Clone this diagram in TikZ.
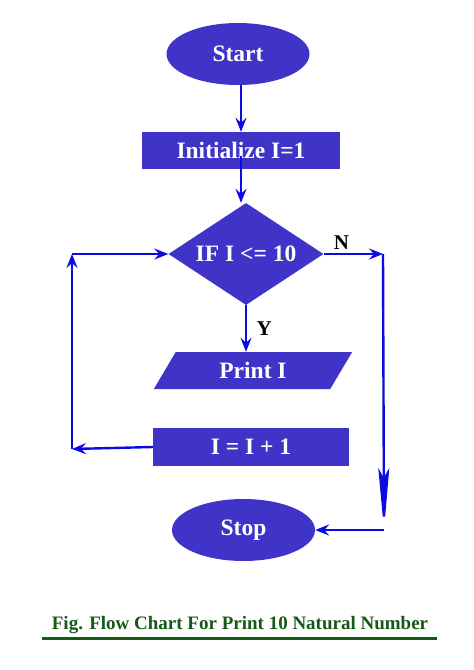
\documentclass[tikz,border=0pt]{standalone}
\usepackage{fontspec}
\setmainfont{Liberation Serif}
\usetikzlibrary{positioning}
\usetikzlibrary{arrows.meta,shapes}
\usetikzlibrary{calc}
\definecolor{boxblue}{RGB}{64,52,200}
\definecolor{lineblue}{RGB}{10,10,225}
\definecolor{capgreen}{RGB}{22,88,22}

\begin{document}
\begin{tikzpicture}[x=1pt, y=-1pt,
  box/.style={fill=boxblue, text=white, inner sep=0pt, font=\bfseries\fontsize{23.5}{27}\selectfont},
  arr/.style={draw=lineblue, line width=2.4pt, -{Stealth[length=14pt,width=11pt,inset=5pt]}},
  longarr/.style={draw=lineblue, line width=2.4pt, -{Stealth[length=62pt,width=11pt,inset=10pt]}},
  lbl/.style={font=\bfseries\fontsize{21}{24}\selectfont}]
\useasboundingbox (0,0) rectangle (474,670);

\node[box, ellipse, minimum width=143pt, minimum height=62pt] (start) at (238,54) {Start};
\node[box, rectangle, minimum width=198pt, minimum height=37pt] (init) at (241,150.5) {Initialize I=1};
\node[box, diamond, aspect=1.5, minimum width=155pt, minimum height=102pt] (cond) at (246,254) {IF I <= 10};
\node[box, trapezium, trapezium left angle=60, trapezium right angle=120, trapezium stretches=true,
      minimum width=200pt, minimum height=37pt] (print) at (253,370.5) {Print I};
\node[box, rectangle, minimum width=196pt, minimum height=38pt] (incr) at (251,447) {I = I + 1};
\node[box, ellipse, minimum width=143pt, minimum height=62pt] (stop) at (243.5,530) {Stop};

\coordinate (noright) at (383,254);
\coordinate (stopright) at (384,530);
\coordinate (loopdown) at (72,449);
\coordinate (loopup) at (72,254);

\draw[arr] (start.south -| init.center) -- (init.north);
\draw[arr] ([yshift=-5pt]init.center) -- (cond.north -| init.center);
\draw[arr] (cond.south) -- (cond.south |- print.north) node[lbl, right, midway, xshift=6pt] {Y};
\draw[arr] (cond.east) -- (noright) node[lbl, above, pos=0.3] {N};
\draw[longarr] (noright) -- (stopright);
\draw[arr] (stopright) -- (stop.east);
\draw[arr] (incr.west) -- (loopdown);
\draw[arr] (loopdown) -- (loopup);
\draw[arr] (loopup) -- (cond.west);

\node[text=capgreen, font=\bfseries\fontsize{19}{22}\selectfont] (caption) at (240,625) {Fig. Flow Chart For Print 10 Natural Number};
\coordinate (ulleft) at (42,638);
\coordinate (ulright) at (437,638);
\draw[capgreen, line width=3pt] (ulleft) -- (ulright);
\end{tikzpicture}
\end{document}
